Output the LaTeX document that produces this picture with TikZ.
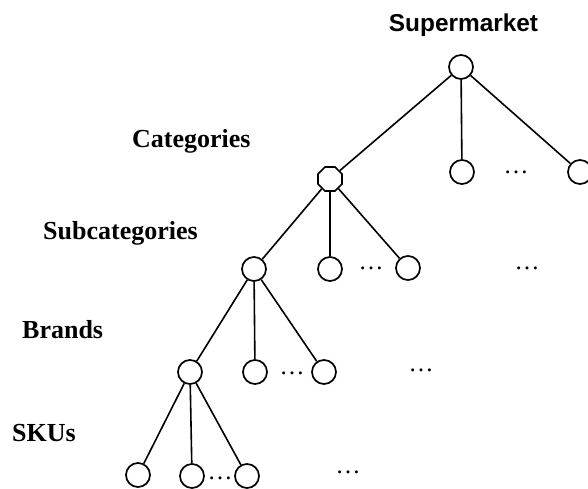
\documentclass[tikz,border=0pt]{standalone}
\usepackage{fontspec}
\setmainfont{Liberation Serif}
\newfontfamily\arialfont{Liberation Sans}
\usetikzlibrary{shapes.geometric}
\begin{document}
\begin{tikzpicture}[x=1pt,y=-1pt,
  vert/.style={circle,draw,line width=1.7pt,minimum size=24pt,inner sep=0pt},
  octa/.style={regular polygon,regular polygon sides=8,draw,line width=1.7pt,minimum size=26pt,inner sep=0pt},
  edge/.style={line width=1.6pt},
  lvl/.style={anchor=base west,inner sep=0pt,font=\fontsize{26}{30}\selectfont\bfseries},
  dots/.style={anchor=base,inner sep=0pt,font=\fontsize{25}{28}\selectfont}]
\useasboundingbox (0,0) rectangle (588,489);
% labels
\node[anchor=base,inner sep=0pt,font=\arialfont\fontsize{24.4}{28}\selectfont\bfseries] (sm) at (463.5,32) {Supermarket};
\node[lvl] (lc) at (132,147) {Categories};
\node[lvl] (ls) at (43,239) {Subcategories};
\node[lvl] (lb) at (22,338) {Brands};
\node[lvl] (lk) at (12,441) {SKUs};
% nodes
\node[vert] (r) at (461,67) {};
\node[octa] (c1) at (330,179) {};
\node[vert] (c2) at (462,172) {};
\node[vert] (c3) at (580,172) {};
\node[vert] (s1) at (254,269) {};
\node[vert] (s2) at (330,269) {};
\node[vert] (s3) at (408,268) {};
\node[vert] (b1) at (190,372) {};
\node[vert] (b2) at (255,372) {};
\node[vert] (b3) at (324,372) {};
\node[vert] (k1) at (138,475) {};
\node[vert] (k2) at (192,476) {};
\node[vert] (k3) at (247,476) {};
% edges
\draw[edge] (r) -- (c1);
\draw[edge] (r) -- (c2);
\draw[edge] (r) -- (c3);
\draw[edge] (c1) -- (s1);
\draw[edge] (c1) -- (s2);
\draw[edge] (c1) -- (s3);
\draw[edge] (s1) -- (b1);
\draw[edge] (s1) -- (b2);
\draw[edge] (s1) -- (b3);
\draw[edge] (b1) -- (k1);
\draw[edge] (b1) -- (k2);
\draw[edge] (b1) -- (k3);
% ellipses
\node[dots] (d1) at (516,173.5) {…};
\node[dots] (d2) at (371,269.5) {…};
\node[dots] (d3) at (527,269.5) {…};
\node[dots] (d4) at (292,374.5) {…};
\node[dots] (d5) at (421,371.5) {…};
\node[dots] (d6) at (220,479.5) {…};
\node[dots] (d7) at (348,473.5) {…};
\end{tikzpicture}
\end{document}
